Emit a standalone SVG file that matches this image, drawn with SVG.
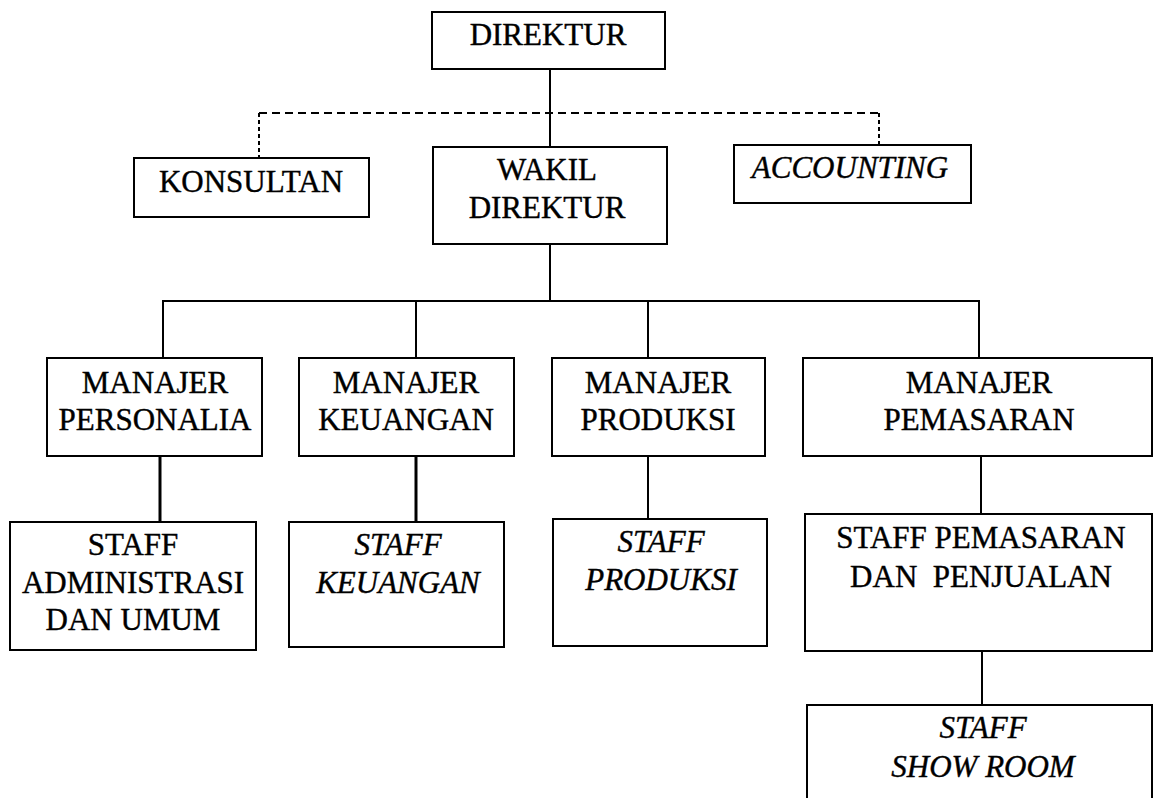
<svg xmlns="http://www.w3.org/2000/svg" width="1154" height="798" viewBox="0 0 1154 798">
<style>
.box{fill:#fff;stroke:#000;stroke-width:2}
.t{font-size:31px;fill:#000;stroke:#000;stroke-width:0.4;text-anchor:middle}
.i{font-style:italic}
.ln{fill:none;stroke:#000;stroke-width:2}
.thick{fill:none;stroke:#000;stroke-width:3}
.dash{fill:none;stroke:#000;stroke-width:2;stroke-dasharray:8 5}
.dot{fill:none;stroke:#000;stroke-width:2;stroke-dasharray:4 3}
</style>
<rect width="1154" height="798" fill="#fff"/>
<g id="connectors">
<line class="ln" x1="550" y1="69" x2="550" y2="147"/>
<line class="dash" x1="259" y1="113" x2="879" y2="113"/>
<line class="dot" x1="259" y1="113" x2="259" y2="158"/>
<line class="dot" x1="879" y1="113" x2="879" y2="145"/>
<line class="ln" x1="550" y1="244" x2="550" y2="301"/>
<polyline class="ln" points="163,358 163,301 979,301 979,358"/>
<line class="ln" x1="416" y1="301" x2="416" y2="358"/>
<line class="ln" x1="648" y1="301" x2="648" y2="358"/>
<line class="thick" x1="160" y1="456" x2="160" y2="522"/>
<line class="thick" x1="416" y1="456" x2="416" y2="522"/>
<line class="ln" x1="648" y1="456" x2="648" y2="519"/>
<line class="ln" x1="981" y1="456" x2="981" y2="514"/>
<line class="ln" x1="982" y1="651" x2="982" y2="705"/>
</g>
<g id="direktur"><rect class="box" x="432" y="12" width="233" height="57"/><text class="t" font-family="Liberation Serif" x="548" y="45">DIREKTUR</text></g>
<g id="konsultan"><rect class="box" x="134" y="158" width="235" height="59"/><text class="t" font-family="Liberation Serif" x="251" y="192">KONSULTAN</text></g>
<g id="wakil-direktur"><rect class="box" x="433" y="147" width="234" height="97"/><text class="t" font-family="Liberation Serif" x="547" y="180">WAKIL</text><text class="t" font-family="Liberation Serif" x="547" y="218">DIREKTUR</text></g>
<g id="accounting"><rect class="box" x="734" y="145" width="237" height="58"/><text class="t i" font-family="Liberation Serif" x="850" y="178">ACCOUNTING</text></g>
<g id="manajer-personalia"><rect class="box" x="47" y="358" width="215" height="98"/><text class="t" font-family="Liberation Serif" x="155" y="393">MANAJER</text><text class="t" font-family="Liberation Serif" x="155" y="430">PERSONALIA</text></g>
<g id="manajer-keuangan"><rect class="box" x="299" y="358" width="215" height="98"/><text class="t" font-family="Liberation Serif" x="406" y="393">MANAJER</text><text class="t" font-family="Liberation Serif" x="406" y="430">KEUANGAN</text></g>
<g id="manajer-produksi"><rect class="box" x="552" y="358" width="213" height="98"/><text class="t" font-family="Liberation Serif" x="658" y="393">MANAJER</text><text class="t" font-family="Liberation Serif" x="658" y="430">PRODUKSI</text></g>
<g id="manajer-pemasaran"><rect class="box" x="803" y="358" width="349" height="98"/><text class="t" font-family="Liberation Serif" x="979" y="393">MANAJER</text><text class="t" font-family="Liberation Serif" x="979" y="430">PEMASARAN</text></g>
<g id="staff-administrasi"><rect class="box" x="10" y="522" width="246" height="128"/><text class="t" font-family="Liberation Serif" x="133" y="555">STAFF</text><text class="t" font-family="Liberation Serif" x="133" y="593">ADMINISTRASI</text><text class="t" font-family="Liberation Serif" x="133" y="630">DAN UMUM</text></g>
<g id="staff-keuangan"><rect class="box" x="289" y="522" width="215" height="125"/><text class="t i" font-family="Liberation Serif" x="398" y="555">STAFF</text><text class="t i" font-family="Liberation Serif" x="398" y="593">KEUANGAN</text></g>
<g id="staff-produksi"><rect class="box" x="553" y="519" width="214" height="127"/><text class="t i" font-family="Liberation Serif" x="661" y="552">STAFF</text><text class="t i" font-family="Liberation Serif" x="661" y="590">PRODUKSI</text></g>
<g id="staff-pemasaran"><rect class="box" x="805" y="514" width="347" height="137"/><text class="t" font-family="Liberation Serif" x="981" y="548">STAFF PEMASARAN</text><text class="t" font-family="Liberation Serif" x="981" y="587" xml:space="preserve">DAN  PENJUALAN</text></g>
<g id="staff-show-room"><rect class="box" x="807" y="705" width="345" height="110"/><text class="t i" font-family="Liberation Serif" x="983" y="738">STAFF</text><text class="t i" font-family="Liberation Serif" x="983" y="777">SHOW ROOM</text></g>
</svg>
